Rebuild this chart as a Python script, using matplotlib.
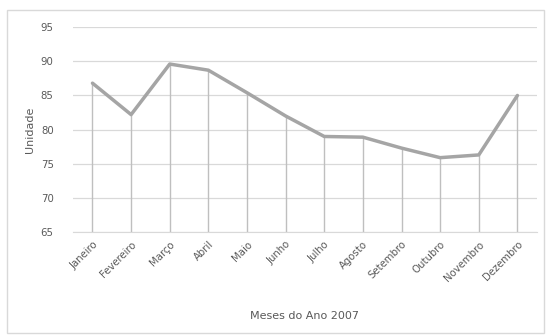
import matplotlib.pyplot as plt
from matplotlib.patches import Rectangle

# dados do grafico
meses = ['Janeiro', 'Fevereiro', 'Março', 'Abril', 'Maio', 'Junho', 'Julho',
         'Agosto', 'Setembro', 'Outubro', 'Novembro', 'Dezembro']
valores = [86.8, 82.2, 89.6, 88.7, 85.4, 82.0, 79.0, 78.9, 77.3, 75.9, 76.3, 85.0]
yticks = [65, 70, 75, 80, 85, 90, 95]

fig = plt.figure(figsize=(5.46, 3.35), dpi=100)
fig.patches.append(Rectangle((0.012, 0.006), 0.985, 0.964, transform=fig.transFigure,
                             fill=False, edgecolor='#d9d9d9', linewidth=1))
ax = fig.add_axes([0.134, 0.307, 0.849, 0.612])

x = list(range(len(meses)))
ax.vlines(x, 65, valores, color='#bfbfbf', linewidth=1, zorder=2)
ax.plot(x, valores, color='#a5a5a5', linewidth=2.5, solid_capstyle='round', zorder=3)

ax.set_xlim(-0.5, len(meses) - 0.5)
ax.set_ylim(65, 95)
ax.set_yticks(yticks)
ax.set_xticks(x)
ax.set_xticklabels(meses, rotation=45, ha='right', rotation_mode='anchor')
ax.tick_params(axis='both', length=0, labelsize=7.3, labelcolor='#595959')
ax.tick_params(axis='y', pad=14)
ax.tick_params(axis='x', pad=5)
ax.grid(axis='y', color='#d9d9d9', linewidth=0.9, zorder=0)
for s in ['top', 'right', 'left']:
    ax.spines[s].set_visible(False)
ax.spines['bottom'].set_color('#d9d9d9')
ax.set_ylabel('Unidade', fontsize=8, color='#595959', labelpad=4)
ax.set_xlabel('Meses do Ano 2007', fontsize=8, color='#595959', labelpad=20)

fig.savefig('out.png', dpi=100)
